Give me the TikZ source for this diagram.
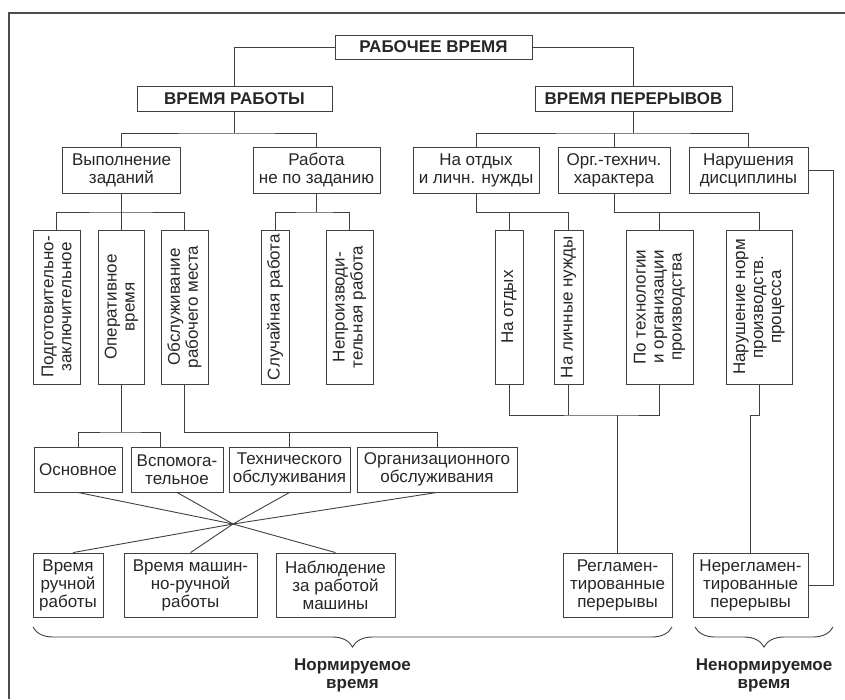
\documentclass[tikz,border=0pt]{standalone}
\usepackage{fontspec}
\setmainfont{Liberation Sans}
\usetikzlibrary{decorations.pathreplacing}

\begin{document}
\begin{tikzpicture}
  [x=1pt,y=-1pt,line width=.9pt,draw=black!75,
   every node/.style={text=black!85,font=\fontsize{17}{18}\selectfont},
   hbox/.style={draw,rectangle,inner sep=0pt,align=center},
   vbox/.style={hbox,rotate=90},
   title/.style={hbox,font=\fontsize{17}{18}\selectfont\bfseries},
   brc/.style={decorate,decoration={brace,mirror,amplitude=20pt}}]
  \useasboundingbox (0,0) rectangle (845,699);
  \draw[line width=2pt,black!70] (9,699) -- (9,13) -- (845,13);

  \node[title,minimum width=197pt,minimum height=24pt] (n1) at (433.5,47) {РАБОЧЕЕ ВРЕМЯ};
  \node[title,minimum width=195pt,minimum height=25pt] (n2) at (234.5,98.5) {ВРЕМЯ РАБОТЫ};
  \node[title,minimum width=197pt,minimum height=25pt] (n3) at (633.5,98.5) {ВРЕМЯ ПЕРЕРЫВОВ};

  \node[hbox,minimum width=118pt,minimum height=46pt] (n4) at (121.5,170) {Выполнение\\заданий};
  \node[hbox,minimum width=127pt,minimum height=46pt] (n5) at (316.5,170) {Работа\\не по заданию};
  \node[hbox,minimum width=126pt,minimum height=46pt] (n6) at (476,170) {На отдых\\и личн. нужды};
  \node[hbox,minimum width=112pt,minimum height=46pt] (n7) at (614,170) {Орг.-технич.\\характера};
  \node[hbox,minimum width=119pt,minimum height=46pt] (n8) at (748.5,170) {Нарушения\\дисциплины};

  % rotated boxes: east is the top, west the bottom
  \node[vbox,minimum width=154pt,minimum height=47pt] (n9) at (56.5,307) {Подготовительно-\\заключительное};
  \node[vbox,minimum width=154pt,minimum height=46pt] (n10) at (121.5,307) {Оперативное\\время};
  \node[vbox,minimum width=154pt,minimum height=47pt] (n11) at (184.5,307) {Обслуживание\\рабочего места};
  \node[vbox,minimum width=154pt,minimum height=28pt] (n12) at (275,307) {Случайная работа};
  \node[vbox,minimum width=154pt,minimum height=47pt] (n13) at (349.5,307) {Непроизводи-\\тельная работа};
  \node[vbox,minimum width=154pt,minimum height=28pt] (n14) at (509,307) {На отдых};
  \node[vbox,minimum width=154pt,minimum height=29pt] (n15) at (568.5,307) {На личные нужды};
  \node[vbox,minimum width=154pt,minimum height=67pt] (n16) at (659.5,307) {По технологии\\и организации\\производства};
  \node[vbox,minimum width=154pt,minimum height=66pt] (n17) at (759,307) {Нарушение норм\\производств.\\процесса};

  \node[hbox,minimum width=88pt,minimum height=45pt] (n18) at (78,469.5) {Основное};
  \node[hbox,minimum width=92pt,minimum height=45pt] (n19) at (177,469.5) {Вспомога-\\тельное};
  \node[hbox,minimum width=121pt,minimum height=45pt] (n20) at (289.5,469.5) {Технического\\обслуживания};
  \node[hbox,minimum width=160pt,minimum height=45pt] (n21) at (437,469.5) {Организационного\\обслуживания};

  \node[hbox,minimum width=70pt,minimum height=64pt] (n22) at (68,585) {Время\\ручной\\работы};
  \node[hbox,minimum width=133pt,minimum height=64pt] (n23) at (190.5,585) {Время машин-\\но-ручной\\работы};
  \node[hbox,minimum width=119pt,minimum height=64pt] (n24) at (335.5,585) {Наблюдение\\за работой\\машины};
  \node[hbox,minimum width=109pt,minimum height=64pt] (n25) at (617.5,585) {Регламен-\\тированные\\перерывы};
  \node[hbox,minimum width=115pt,minimum height=64pt] (n26) at (750.5,585) {Нерегламен-\\тированные\\перерывы};

  \node[font=\fontsize{17}{18}\selectfont\bfseries,align=center] (n27) at (352.5,675) {Нормируемое\\время};
  \node[font=\fontsize{17}{18}\selectfont\bfseries,align=center] (n28) at (764,675) {Ненормируемое\\время};

  \coordinate (j1) at (234.5,133);
  \coordinate (j2) at (633.5,133);
  \coordinate (j3) at (121.5,212);
  \coordinate (j4) at (316.5,212);
  \coordinate (j5) at (476,212);
  \coordinate (j6) at (614,212);
  \coordinate (j7) at (617.5,415);
  \coordinate (j8) at (121.5,432);
  \coordinate (j9) at (184.5,432);
  \coordinate (x0) at (233,524);

  \draw (n1.west) -| (n2.north);
  \draw (n1.east) -| (n3.north);
  \draw (n2.south) -- (j1);
  \draw (n4.north) |- (j1) -| (n5.north);
  \draw (n3.south) -- (j2);
  \draw (n6.north) |- (j2) -| (n8.north);
  \draw (n7.north) -- (n7.north |- j2);

  \draw (n4.south) -- (n10.east);
  \draw (n9.east) |- (j3) -| (n11.east);
  \draw (n5.south) -- (j4);
  \draw (n12.east) |- (j4) -| (n13.east);
  \draw (n6.south) -- (j5) -| (n15.east);
  \draw (n14.east) -- (n14.east |- j5);
  \draw (n7.south) -- (j6) -| (n17.east);
  \draw (n16.east) -- (n16.east |- j6);
  \draw (n8.east) -- ++(25,0) |- (n26.east);

  \draw (n14.west) |- (j7) -| (n16.west);
  \draw (n15.west) -- (n15.west |- j7);
  \draw (j7) -- (n25.north);
  \draw (n17.west) -- ++(0,31) -| (n26.north);

  \draw (n10.west) -- (j8);
  \draw (n18.north) |- (j8) -| ([xshift=-17pt]n19.north);
  \draw (n11.west) -- (j9) -| (n21.north);
  \draw (n20.north) -- (n20.north |- j9);

  \draw (n18.south) -- (x0);
  \draw (n19.south) -- (x0);
  \draw (n20.south) -- (x0);
  \draw (n21.south) -- (x0);
  \draw (x0) -- ([xshift=5pt]n22.north);
  \draw (x0) -- (n23.north);
  \draw (x0) -- (n24.north);

  \draw[brc] (33,627) -- (672,627);
  \draw[brc] (695,627) -- (833,627);

\end{tikzpicture}
\end{document}
